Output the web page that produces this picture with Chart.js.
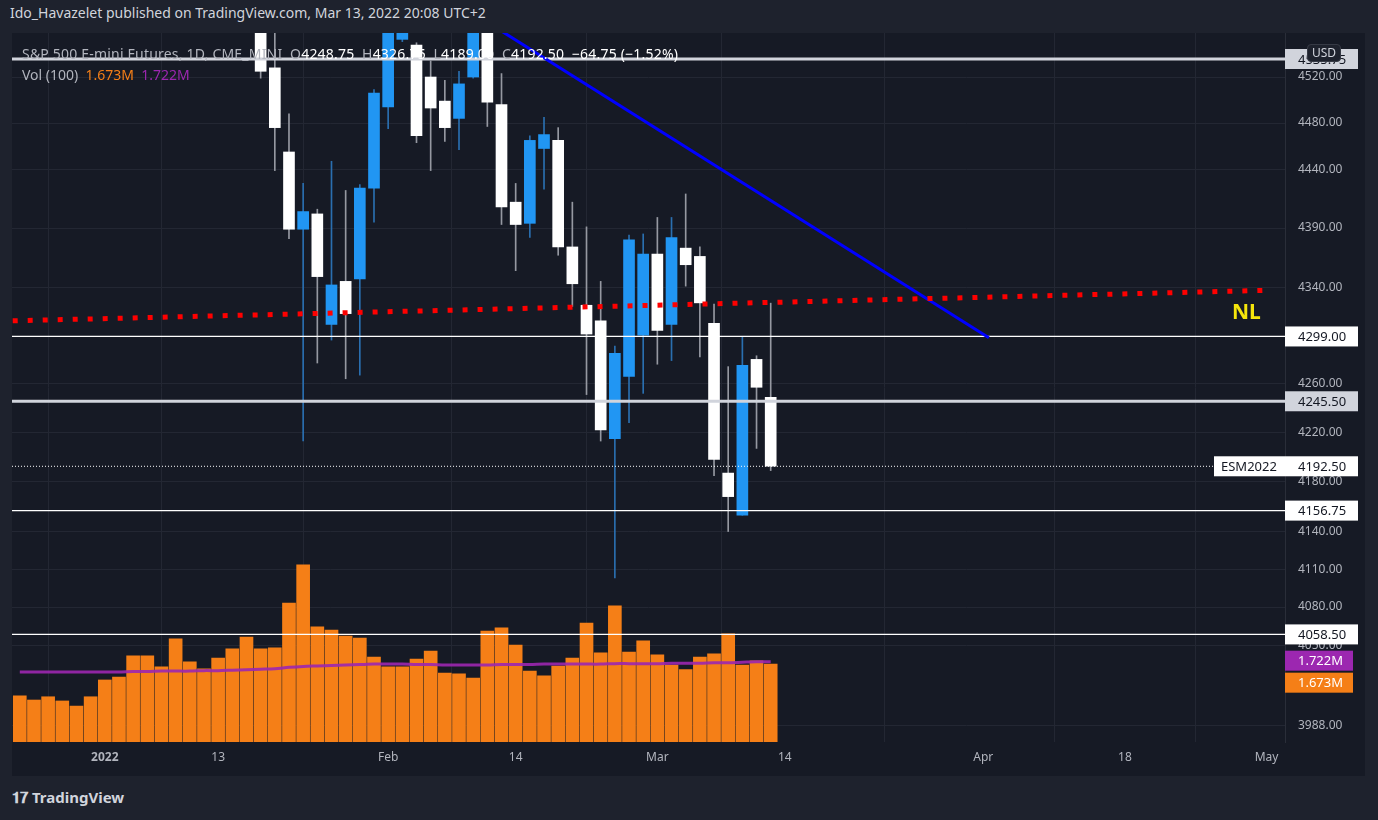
<!DOCTYPE html>
<html>
<head>
<meta charset="utf-8">
<script src="https://cdn.jsdelivr.net/npm/chart.js@4.4.1/dist/chart.umd.min.js"></script>
<style>
  body { margin: 0; width: 1378px; height: 820px; background: #1e222d; overflow: hidden; font-family: "Noto Sans", sans-serif; position: relative; }
  #head { position: absolute; left: 10px; top: 3px; font-size: 14px; color: #d1d4dc; }
  #pane { position: absolute; left: 12px; top: 33px; width: 1353px; height: 743px; background: #161a25; }
  #legend { position: absolute; left: 22px; top: 43px; font-size: 14px; color: #b2b5be; line-height: 21px; pointer-events: none; }
  #legend .row1 { letter-spacing: 0.2px; }
  #legend b { font-weight: normal; color: #ffffff; }
  #usd { position: absolute; left: 1307px; top: 44px; font-size: 12px; color: #d1d4dc; background: #1e222d; border: 1px solid #363a45; border-radius: 4px; padding: 0 4px; line-height: 16px; }
  #nl { position: absolute; left: 1232px; top: 297px; font-size: 21px; font-weight: bold; color: #f5e50c; }
  #foot { position: absolute; left: 12px; top: 787px; font-size: 15px; font-weight: bold; color: #d1d4dc; }
</style>
</head>
<body>
<div id="head">Ido_Havazelet published on TradingView.com, Mar 13, 2022 20:08 UTC+2</div>
<div id="pane"><canvas id="chart"></canvas></div>
<div id="legend">
  <div class="row1">S&amp;P 500 E-mini Futures, 1D, CME_MINI&nbsp; O<b>4248.75</b>&nbsp; H<b>4326.75</b>&nbsp; L<b>4189.00</b>&nbsp; C<b>4192.50</b>&nbsp; <b>−64.75 (−1.52%)</b></div>
  <div>Vol (100)&nbsp; <span style="color:#f57f17">1.673M</span>&nbsp; <span style="color:#9c27b0">1.722M</span></div>
</div>
<div id="usd">USD</div>
<div id="nl">NL</div>
<div id="foot">&#x1D7CF;&#x1D7D5; TradingView</div>
<script>
// bar index 0 = Jan 3 2022, trading days only
const firstCandle = 11;
const opens  = [4560, 4528, 4455, 4389, 4402, 4309, 4345, 4347, 4424, 4494, 4553, 4548, 4520, 4499, 4484, 4520, 4575, 4496, 4412, 4394, 4458, 4465, 4374, 4325, 4312, 4215, 4266, 4300, 4368, 4309, 4373, 4366, 4310, 4187, 4153, 4280, 4248.75];
const highs  = [4580, 4565, 4488, 4428, 4406, 4447, 4422, 4427, 4509, 4580, 4580, 4550, 4534, 4517, 4525, 4580, 4585, 4523, 4428, 4469, 4485, 4476, 4412, 4391, 4345, 4291, 4384, 4385, 4399, 4399, 4419, 4374, 4326, 4274, 4299, 4283, 4326.75];
const lows   = [4519, 4439, 4381, 4213, 4277, 4296, 4264, 4267, 4395, 4475, 4551, 4463, 4439, 4464, 4457, 4519, 4477, 4393, 4354, 4382, 4423, 4367, 4324, 4251, 4213, 4103, 4228, 4252, 4276, 4279, 4341, 4282, 4185, 4140, 4153, 4207, 4189];
const closes = [4525, 4476, 4389, 4404, 4349, 4342, 4318, 4424, 4506, 4575, 4570, 4469, 4493, 4476, 4514, 4570, 4498, 4408, 4393, 4465, 4470, 4374, 4343, 4301, 4222, 4285, 4380, 4368, 4304, 4382, 4359, 4327, 4198, 4168, 4275, 4257, 4192.5];

const firstVol = -6;
const volumes = [0.99, 0.90, 0.97, 0.88, 0.77, 0.97, 1.33, 1.39, 1.85, 1.85, 1.61, 2.21, 1.72, 1.57, 1.80, 2.00, 2.25, 2.00, 2.02, 2.98, 3.80, 2.47, 2.40, 2.27, 2.23, 1.82, 1.61, 1.61,
                 1.78, 1.95, 1.48, 1.46, 1.37, 2.38, 2.45, 2.08, 1.52, 1.42, 1.63, 1.80, 2.55, 1.91, 2.92, 1.93, 2.17, 1.87, 1.65, 1.55, 1.82, 1.89, 2.32, 1.65, 1.74, 1.673];
const volMA = [1.50, 1.50, 1.50, 1.50, 1.50, 1.50, 1.50, 1.50, 1.51, 1.51, 1.52, 1.52, 1.52, 1.53, 1.53, 1.54, 1.55, 1.56, 1.57, 1.60, 1.62, 1.63, 1.64, 1.65,
               1.66, 1.67, 1.67, 1.67, 1.66, 1.66, 1.65, 1.65, 1.65, 1.65, 1.66, 1.66, 1.66, 1.67, 1.67, 1.67, 1.67, 1.67, 1.68, 1.68, 1.68, 1.68, 1.69, 1.69,
               1.69, 1.70, 1.70, 1.71, 1.72, 1.722];

const priceTicks = [4520, 4480, 4440, 4390, 4340, 4260, 4220, 4180, 4140, 4110, 4080, 4050, 3988];
const xTickIdx = [0, 8, 20, 29, 39, 48, 62, 72, 82];
const xTickLabels = ['2022', '13', 'Feb', '14', 'Mar', '14', 'Apr', '18', 'May'];

const levels = [4535.75, 4299, 4245.5, 4156.75, 4058.5];
const lastPrice = 4192.5;
const neckline = [[-6.5, 4312], [82.2, 4337.5]];
const trendline = [[26, 4576], [62.4, 4298]];

const xMin = -6.55, xMax = 83.3;

const upColor = '#2196f3', downColor = '#ffffff';
let bodies = [], wicks = [], bodyColors = [], wickColors = [];
opens.forEach((o, i) => {
    const up = closes[i] >= o;
    bodies.push({ x: firstCandle + i, y: [o, closes[i]] });
    wicks.push({ x: firstCandle + i, y: [lows[i], highs[i]] });
    bodyColors.push(up ? upColor : downColor);
    wickColors.push(up ? '#2a6fb0' : '#9598a1');
});
const volData = volumes.map((v, i) => ({ x: firstVol + i, y: v }));
const maData = volMA.map((v, i) => ({ x: firstVol + i, y: v }));

const levelSets = levels.map((v) => ({
    type: 'line', yAxisID: 'y',
    data: [{ x: xMin, y: v }, { x: xMax, y: v }],
    borderColor: (v === 4535.75 || v === 4245.5) ? '#d1d4dc' : '#ffffff',
    borderWidth: (v === 4535.75 || v === 4245.5) ? 3 : 1.2,
    pointRadius: 0, order: 1
}));

const labelPlugin = {
    id: 'labels',
    afterDatasetsDraw(chart) {
        const ctx = chart.ctx, y = chart.scales.y, y2 = chart.scales.y2;
        const left = chart.chartArea.right;
        ctx.save();
        ctx.font = '13px "Noto Sans"';
        ctx.textBaseline = 'middle';
        function box(x0, w, py, bg, fg, text, tx) {
            ctx.fillStyle = bg;
            ctx.fillRect(x0, py - 10, w, 20);
            ctx.fillStyle = fg;
            ctx.fillText(text, tx, py + 1);
        }
        levels.forEach((v) => {
            const thick = (v === 4535.75 || v === 4245.5);
            box(left, 73, y.getPixelForValue(v), thick ? '#d1d4dc' : '#ffffff', '#131722', v.toFixed(2), left + 13);
        });
        const ly = y.getPixelForValue(lastPrice);
        box(left - 71, 144, ly, '#ffffff', '#131722', 'ESM2022', left - 64);
        ctx.fillText(lastPrice.toFixed(2), left + 13, ly + 1);
        const my = y2.getPixelForValue(volMA[volMA.length - 1]);
        box(left, 68, my - 1, '#9c27b0', '#ffffff', '1.722M', left + 13);
        box(left, 68, my + 21, '#f57f17', '#ffffff', '1.673M', left + 13);
        ctx.restore();
    }
};

new Chart(document.getElementById('chart'), {
    type: 'bar',
    data: {
        datasets: [
            ...levelSets,
            { type: 'line', yAxisID: 'y', data: [{ x: xMin, y: lastPrice }, { x: xMax, y: lastPrice }],
              borderColor: '#ffffff', borderWidth: 1, borderDash: [1, 2], pointRadius: 0, order: 1 },
            { type: 'line', yAxisID: 'y', data: neckline.map(p => ({ x: p[0], y: p[1] })),
              borderColor: '#ff0000', borderWidth: 5, borderDash: [5, 10], borderCapStyle: 'butt', pointRadius: 0, order: 0 },
            { type: 'line', yAxisID: 'y', data: trendline.map(p => ({ x: p[0], y: p[1] })),
              borderColor: '#0000ff', borderWidth: 3, pointRadius: 0, order: 0 },
            { data: bodies, yAxisID: 'y', backgroundColor: bodyColors, barThickness: 11, grouped: false, order: 2 },
            { data: wicks, yAxisID: 'y', backgroundColor: wickColors, barThickness: 1, grouped: false, order: 3 },
            { type: 'line', yAxisID: 'y2', data: maData, borderColor: 'rgba(156,39,176,0.9)', borderWidth: 3,
              pointRadius: 0, tension: 0.3, order: 4 },
            { data: volData, yAxisID: 'y2', backgroundColor: '#f57f17', barThickness: 13, grouped: false, order: 5 }
        ]
    },
    options: {
        responsive: true,
        maintainAspectRatio: false,
        animation: false,
        layout: { padding: 0 },
        plugins: { legend: { display: false }, tooltip: { enabled: false } },
        scales: {
            x: {
                type: 'linear', min: xMin, max: xMax, offset: false,
                afterBuildTicks: (s) => { s.ticks = xTickIdx.map(v => ({ value: v })); },
                afterFit: (s) => { s.height = 34; s.paddingLeft = 0; s.paddingRight = 0; },
                ticks: {
                    color: '#b2b5be', padding: 8, maxRotation: 0, autoSkip: false,
                    font: (c) => ({ family: 'Noto Sans', size: 12, weight: c.tick && c.tick.value === 0 ? 'bold' : 'normal' }),
                    callback: (v) => xTickLabels[xTickIdx.indexOf(v)]
                },
                grid: { color: '#232733', tickLength: 0 },
                border: { display: false }
            },
            y: {
                type: 'logarithmic', position: 'right', min: 3975, max: 4558.6,
                afterBuildTicks: (s) => { s.ticks = priceTicks.map(v => ({ value: v })); },
                afterFit: (s) => { s.width = 80; s.paddingTop = 0; s.paddingBottom = 0; },
                ticks: { color: '#b2b5be', padding: 13, font: { family: 'Noto Sans', size: 12 },
                         callback: (v) => Number(v).toFixed(2) },
                grid: { color: '#232733', tickLength: 0 },
                border: { color: '#2a2e39' }
            },
            y2: { type: 'linear', display: false, min: 0, max: 15.2 }
        }
    },
    plugins: [labelPlugin]
});
</script>
</body>
</html>
